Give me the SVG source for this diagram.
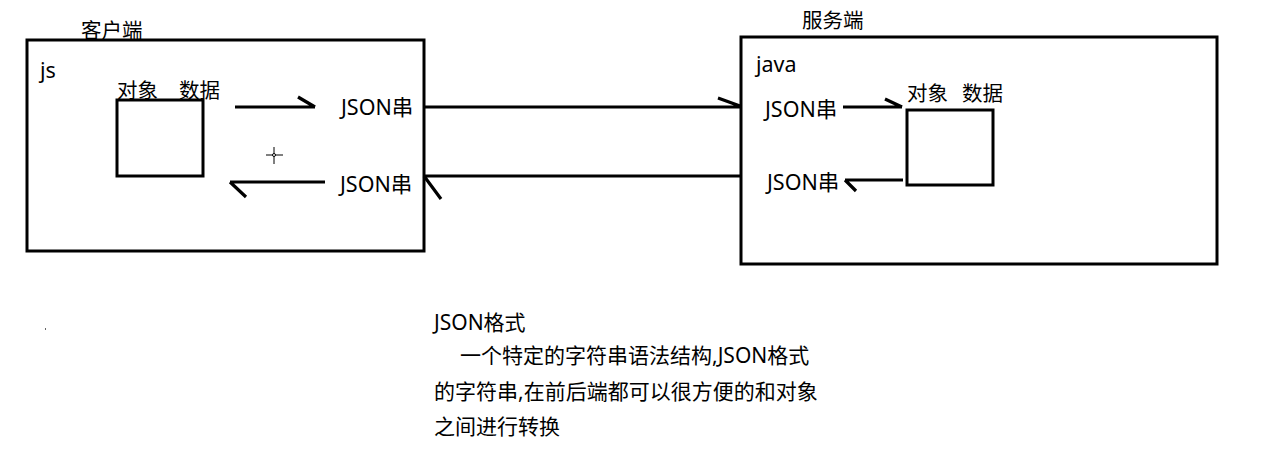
<svg xmlns="http://www.w3.org/2000/svg" width="1266" height="453" viewBox="0 0 1266 453">
<style>
.box{fill:none;stroke:#000;stroke-width:3}
.ln{fill:none;stroke:#000;stroke-width:3.2;stroke-linecap:butt}
.t{font-family:"Noto Sans","Noto Sans CJK SC",sans-serif;font-size:21.5px;fill:#000}
.c{font-family:"Noto Sans CJK SC",sans-serif;font-size:20.5px;fill:#000}
.b{font-family:"Noto Sans","Noto Sans CJK SC",sans-serif;font-size:21px;fill:#000}
</style>
<rect width="1266" height="453" fill="#fff"/>
<g id="client">
<rect class="box" x="27" y="40" width="397" height="211"/>
<text class="c" x="81" y="38">客户端</text>
<text class="t" x="40" y="78">js</text>
</g>
<g id="client-object">
<rect class="box" x="117" y="100" width="86" height="76"/>
<text class="c" x="117" y="98">对象</text>
<text class="c" x="179" y="98">数据</text>
</g>
<g id="client-json-out"><text class="t" x="341" y="115">JSON串</text></g>
<g id="client-json-in"><text class="t" x="340" y="192">JSON串</text></g>
<g id="server">
<rect class="box" x="741" y="37" width="476" height="227"/>
<text class="c" x="802" y="28">服务端</text>
<text class="t" x="756" y="72">java</text>
</g>
<g id="server-json-in"><text class="t" x="765" y="117">JSON串</text></g>
<g id="server-json-out"><text class="t" x="767" y="190">JSON串</text></g>
<g id="server-object">
<rect class="box" x="907" y="110" width="86" height="75"/>
<text class="c" x="907" y="101">对象</text>
<text class="c" x="962" y="101">数据</text>
</g>
<g id="connectors">
<path class="ln" d="M235 107H315M298 97L315 107"/>
<path class="ln" d="M325 182H230M230 182L246 197"/>
<path class="ln" d="M424 107H740M718 98L740 106"/>
<path class="ln" d="M740 176H424M424 176L441 199"/>
<path class="ln" d="M843 107H902M885 99L902 107"/>
<path class="ln" d="M903 180H845M845 180L856 191"/>
</g>
<g id="cursor" stroke="#000" stroke-width="1" fill="none">
<line x1="274" y1="147" x2="274" y2="164"/>
<line x1="266" y1="155" x2="283" y2="155"/>
<circle cx="274" cy="155" r="1.5" fill="#fff"/>
</g>
<rect x="45" y="328" width="1" height="2" fill="#666"/>
<g id="note">
<text class="b" x="434" y="330">JSON格式</text>
<text class="b" x="460" y="363">一个特定的字符串语法结构,JSON格式</text>
<text class="b" x="434" y="399">的字符串,在前后端都可以很方便的和对象</text>
<text class="b" x="434" y="434">之间进行转换</text>
</g>
</svg>
